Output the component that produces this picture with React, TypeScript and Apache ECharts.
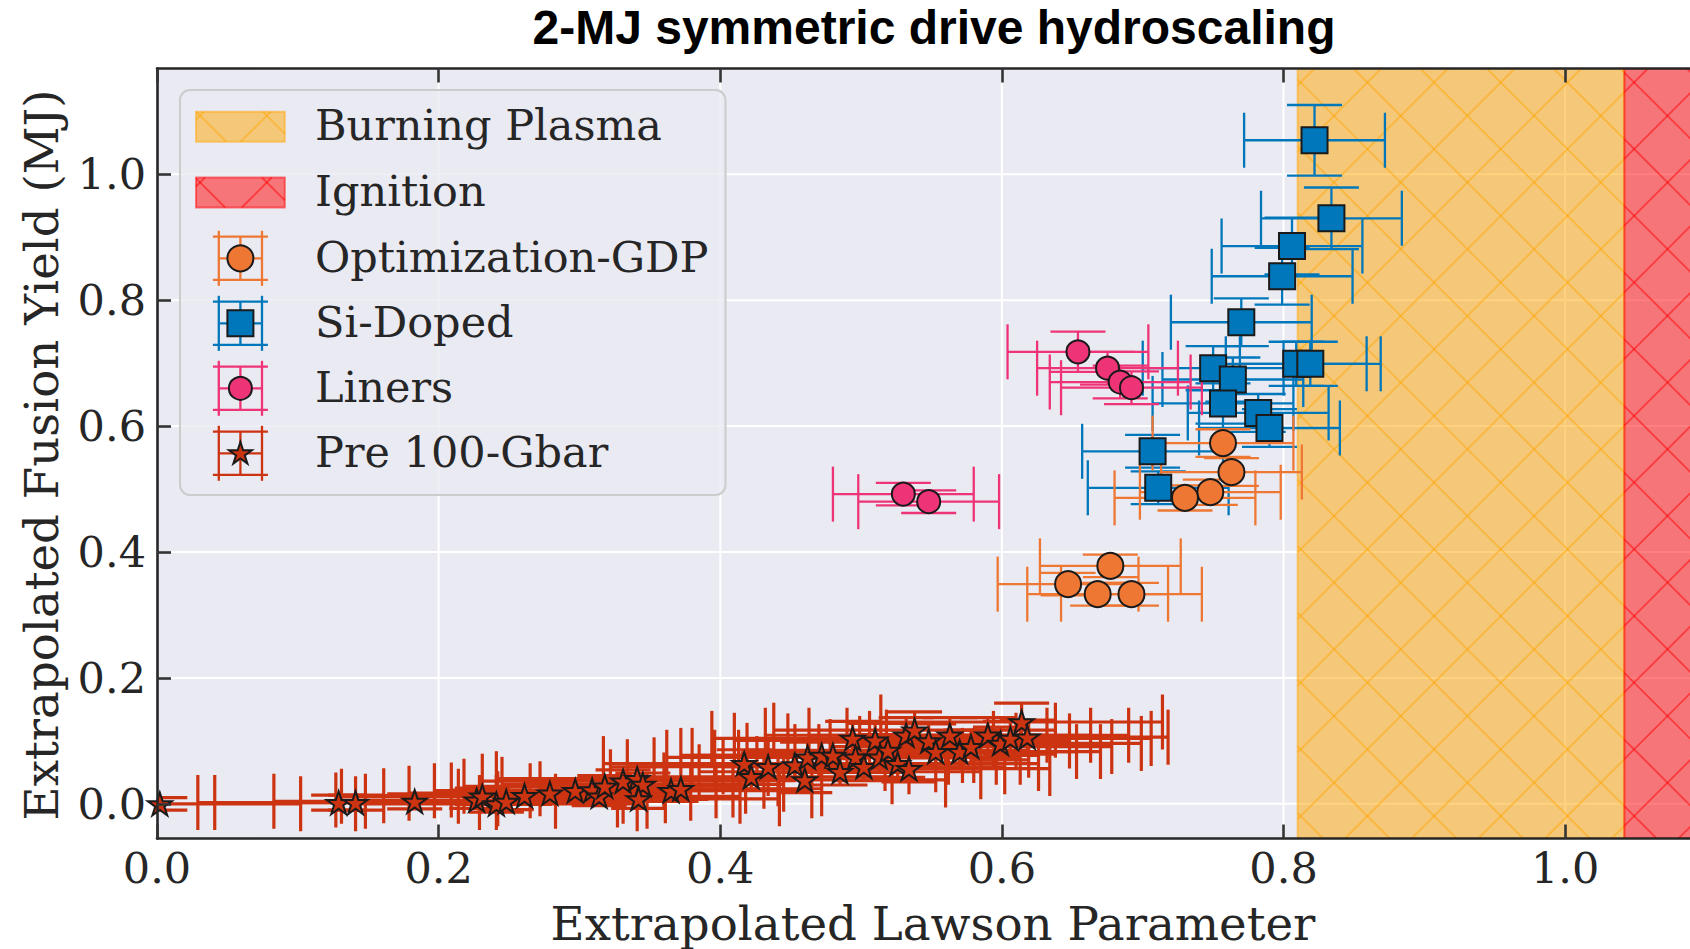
import React, { useEffect, useRef } from 'react';
import * as echarts from 'echarts';

// ---- texts -------------------------------------------------------------
const TITLE = '2-MJ symmetric drive hydroscaling';
const X_LABEL = 'Extrapolated Lawson Parameter';
const Y_LABEL = 'Extrapolated Fusion Yield (MJ)';

// ---- axes --------------------------------------------------------------
const X_TICKS = [0, 0.2, 0.4, 0.6, 0.8, 1.0];
const Y_TICKS = [0, 0.2, 0.4, 0.6, 0.8, 1.0];
const X_LIMITS = [0, 1.1];
const Y_LIMITS = [-0.055, 1.168];

// ---- regime bands along the Lawson parameter: [start, end] ---------------
const BURNING_PLASMA_SPAN = [0.81, 1.042];
const IGNITION_SPAN = [1.042, 1.1];

// ---- shots: [lawson, yield, lawsonErr, yieldErr] -------------------------
const OPTIMIZATION_GDP = [
  [0.757, 0.573, 0.05, 0.022],
  [0.763, 0.527, 0.05, 0.022],
  [0.748, 0.495, 0.05, 0.02],
  [0.73, 0.486, 0.05, 0.02],
  [0.677, 0.378, 0.05, 0.018],
  [0.647, 0.349, 0.05, 0.018],
  [0.668, 0.333, 0.05, 0.018],
  [0.692, 0.333, 0.05, 0.018],
];

const SI_DOPED = [
  [0.822, 1.054, 0.05, 0.056],
  [0.834, 0.93, 0.05, 0.049],
  [0.806, 0.886, 0.05, 0.045],
  [0.799, 0.838, 0.05, 0.045],
  [0.77, 0.765, 0.05, 0.038],
  [0.75, 0.692, 0.05, 0.035],
  [0.764, 0.674, 0.05, 0.035],
  [0.809, 0.699, 0.05, 0.035],
  [0.819, 0.699, 0.05, 0.035],
  [0.757, 0.636, 0.05, 0.032],
  [0.782, 0.621, 0.05, 0.03],
  [0.79, 0.597, 0.05, 0.03],
  [0.707, 0.56, 0.05, 0.026],
  [0.711, 0.502, 0.05, 0.026],
];

const LINERS = [
  [0.654, 0.718, 0.05, 0.032],
  [0.675, 0.692, 0.05, 0.026],
  [0.684, 0.67, 0.05, 0.026],
  [0.692, 0.661, 0.05, 0.026],
  [0.53, 0.492, 0.05, 0.018],
  [0.548, 0.48, 0.05, 0.018],
];

const PRE_100_GBAR = [
  [0.002, 0.0, 0.1, 0.01],
  [0.129, 0.002, 0.1, 0.012],
  [0.141, 0.002, 0.1, 0.012],
  [0.183, 0.004, 0.1, 0.012],
  [0.227, 0.006, 0.1, 0.013],
  [0.231, 0.012, 0.1, 0.013],
  [0.241, 0.0, 0.1, 0.013],
  [0.248, 0.004, 0.1, 0.013],
  [0.261, 0.013, 0.1, 0.014],
  [0.279, 0.017, 0.1, 0.015],
  [0.297, 0.021, 0.1, 0.016],
  [0.309, 0.022, 0.1, 0.016],
  [0.314, 0.012, 0.1, 0.015],
  [0.318, 0.028, 0.1, 0.017],
  [0.331, 0.036, 0.1, 0.018],
  [0.341, 0.04, 0.1, 0.019],
  [0.345, 0.031, 0.1, 0.018],
  [0.342, 0.008, 0.1, 0.015],
  [0.365, 0.021, 0.1, 0.017],
  [0.372, 0.024, 0.1, 0.017],
  [0.417, 0.064, 0.1, 0.022],
  [0.422, 0.043, 0.1, 0.02],
  [0.434, 0.059, 0.1, 0.022],
  [0.453, 0.062, 0.1, 0.022],
  [0.46, 0.038, 0.1, 0.02],
  [0.462, 0.074, 0.1, 0.024],
  [0.472, 0.077, 0.1, 0.024],
  [0.48, 0.077, 0.1, 0.024],
  [0.485, 0.051, 0.1, 0.021],
  [0.494, 0.104, 0.1, 0.027],
  [0.496, 0.074, 0.1, 0.024],
  [0.502, 0.059, 0.1, 0.022],
  [0.51, 0.101, 0.1, 0.027],
  [0.513, 0.074, 0.1, 0.024],
  [0.519, 0.085, 0.1, 0.025],
  [0.526, 0.064, 0.1, 0.022],
  [0.532, 0.109, 0.1, 0.028],
  [0.534, 0.056, 0.1, 0.021],
  [0.538, 0.117, 0.1, 0.029],
  [0.548, 0.1, 0.1, 0.027],
  [0.553, 0.083, 0.1, 0.025],
  [0.563, 0.109, 0.1, 0.028],
  [0.57, 0.083, 0.1, 0.025],
  [0.578, 0.091, 0.1, 0.026],
  [0.59, 0.109, 0.1, 0.028],
  [0.599, 0.096, 0.1, 0.026],
  [0.606, 0.104, 0.1, 0.027],
  [0.614, 0.13, 0.1, 0.03],
  [0.618, 0.106, 0.1, 0.027],
];

// ---- styling -----------------------------------------------------------
const COLORS = {
  orange: '#EE7733',
  blue: '#0077BB',
  magenta: '#EE3377',
  red: '#CC3311',
  edge: '#1a1a1a',
  axes: '#262626',
  plotBg: '#EAEAF2',
  burningFill: 'rgba(255,165,0,0.5)',
  ignitionFill: 'rgba(255,0,0,0.5)',
};
const SERIF = '"DejaVu Serif", serif';
const TICK_FONT = 43;
const LABEL_FONT = 46.7;
const LEGEND_FONT = 43;
const CAP = 27.5; // half length of the error-bar caps, px
const ERR_WIDTH = 2.3;
const DENSE_ERR_WIDTH = 3.2;
const HATCH_STEP = 66.7;
const HATCH_ORIGIN = [1334, 649.3];
const STAR_PATH =
  'path://M100,0L122.45,69.1L195.11,69.1L136.33,111.8L158.78,180.9L100,138.2L41.22,180.9L63.67,111.8L4.89,69.1L77.55,69.1Z';

const GRID = { left: 157, top: 68.5, right: -16, bottom: 110.5 };

// 45-degree cross hatch clipped to a pixel rectangle
function hatchSegments(x0: number, y0: number, x1: number, y1: number) {
  const segs: number[][] = [];
  const a0 = HATCH_ORIGIN[0] + HATCH_ORIGIN[1];
  const b0 = HATCH_ORIGIN[0] - HATCH_ORIGIN[1];
  let k = Math.ceil((x0 + y0 - a0) / HATCH_STEP);
  for (let c = a0 + k * HATCH_STEP; c <= x1 + y1; c += HATCH_STEP) {
    const lo = Math.max(x0, c - y1);
    const hi = Math.min(x1, c - y0);
    if (hi > lo) segs.push([lo, c - lo, hi, c - hi]);
  }
  k = Math.ceil((x0 - y1 - b0) / HATCH_STEP);
  for (let c = b0 + k * HATCH_STEP; c <= x1 - y0; c += HATCH_STEP) {
    const lo = Math.max(x0, c + y0);
    const hi = Math.min(x1, c + y1);
    if (hi > lo) segs.push([lo, lo - c, hi, hi - c]);
  }
  return segs;
}

function hatchedRect(x0: number, y0: number, x1: number, y1: number, fill: string, z?: number) {
  const els: any[] = [
    {
      type: 'rect',
      shape: { x: x0, y: y0, width: x1 - x0, height: y1 - y0 },
      style: { fill, stroke: fill, lineWidth: 2 },
      z,
    },
  ];
  hatchSegments(x0, y0, x1, y1).forEach((s) =>
    els.push({
      type: 'line',
      shape: { x1: s[0], y1: s[1], x2: s[2], y2: s[3] },
      style: { stroke: fill, lineWidth: 1.8 },
      z,
    })
  );
  return els;
}

function line(x1: number, y1: number, x2: number, y2: number, color: string, z?: number, width = ERR_WIDTH) {
  return { type: 'line', shape: { x1, y1, x2, y2 }, style: { stroke: color, lineWidth: width }, z };
}

function regionSeries(name: string, span: number[], fill: string) {
  return {
    type: 'custom',
    name,
    data: [[span[0], span[1], 0]],
    encode: { x: [0, 1], y: 2 },
    z: 2,
    silent: true,
    clip: true,
    renderItem: (params: any, api: any) => {
      const cs = params.coordSys;
      const a = api.coord([api.value(0), Y_LIMITS[1]]);
      const b = api.coord([api.value(1), Y_LIMITS[0]]);
      const x1 = Math.min(b[0], cs.x + cs.width);
      return { type: 'group', children: hatchedRect(a[0], cs.y, x1, cs.y + cs.height, fill) };
    },
  };
}

function errorBarSeries(name: string, data: number[][], color: string, width = ERR_WIDTH) {
  return {
    type: 'custom',
    name: name + ' error',
    data,
    encode: { x: 0, y: 1 },
    z: 3,
    silent: true,
    clip: true,
    renderItem: (_params: any, api: any) => {
      const x = api.value(0);
      const y = api.value(1);
      const ex = api.value(2);
      const ey = api.value(3);
      const l = api.coord([x - ex, y]);
      const r = api.coord([x + ex, y]);
      const t = api.coord([x, y + ey]);
      const b = api.coord([x, y - ey]);
      return {
        type: 'group',
        children: [
          line(l[0], l[1], r[0], r[1], color, undefined, width),
          line(t[0], t[1], b[0], b[1], color, undefined, width),
          line(l[0], l[1] - CAP, l[0], l[1] + CAP, color, undefined, width),
          line(r[0], r[1] - CAP, r[0], r[1] + CAP, color, undefined, width),
          line(t[0] - CAP, t[1], t[0] + CAP, t[1], color, undefined, width),
          line(b[0] - CAP, b[1], b[0] + CAP, b[1], color, undefined, width),
        ],
      };
    },
  };
}

function markerSeries(name: string, data: number[][], color: string, symbol: string, size: number) {
  return {
    type: 'scatter',
    name,
    data: data.map((d) => [d[0], d[1]]),
    symbol,
    symbolSize: size,
    symbolKeepAspect: true,
    z: 4,
    silent: true,
    itemStyle: { color, borderColor: COLORS.edge, borderWidth: 2, opacity: 1 },
  };
}

function gridLineSeries(dim: 'x' | 'y', ticks: number[]) {
  return {
    type: 'custom',
    name: 'grid-' + dim,
    data: ticks.map((v) => (dim === 'x' ? [v, 0] : [0, v])),
    encode: { x: 0, y: 1 },
    z: 1,
    silent: true,
    renderItem: (params: any, api: any) => {
      const cs = params.coordSys;
      const p = api.coord([api.value(0), api.value(1)]);
      const shape =
        dim === 'x'
          ? { x1: p[0], y1: cs.y, x2: p[0], y2: cs.y + cs.height }
          : { x1: cs.x, y1: p[1], x2: cs.x + cs.width, y2: p[1] };
      return { type: 'line', shape, style: { stroke: '#ffffff', lineWidth: 2 } };
    },
  };
}

// ---- legend ------------------------------------------------------------
const LEGEND_BOX = { x: 180, y: 90, width: 545.5, height: 405 };
const LEGEND_ROWS = [126.7, 192.5, 258.3, 323.3, 388.3, 453.3];
const LEGEND_ICON_X = 240.4;
const LEGEND_TEXT_X = 315;

function legendMarker(kind: string, cx: number, cy: number, color: string, size: number, z: number) {
  const style = { fill: color, stroke: COLORS.edge, lineWidth: 2 };
  if (kind === 'circle') return { type: 'circle', shape: { cx, cy, r: size / 2 }, style, z };
  if (kind === 'rect')
    return { type: 'rect', shape: { x: cx - size / 2, y: cy - size / 2, width: size, height: size }, style, z };
  const pts: number[][] = [];
  const R = size / 2;
  for (let i = 0; i < 10; i++) {
    const ang = -Math.PI / 2 + (i * Math.PI) / 5;
    const r = i % 2 === 0 ? R : R * 0.382;
    pts.push([cx + r * Math.cos(ang), cy + r * Math.sin(ang) + R * 0.05]);
  }
  return { type: 'polygon', shape: { points: pts }, style, z };
}

function buildLegend() {
  const z = 100;
  const els: any[] = [
    {
      type: 'rect',
      shape: { ...LEGEND_BOX, r: 10 },
      style: { fill: 'rgba(234,234,242,0.8)', stroke: '#cccccc', lineWidth: 2 },
      z,
    },
  ];
  const entries = [
    { label: 'Burning Plasma', patch: COLORS.burningFill },
    { label: 'Ignition', patch: COLORS.ignitionFill },
    { label: 'Optimization-GDP', color: COLORS.orange, marker: 'circle', size: 26 },
    { label: 'Si-Doped', color: COLORS.blue, marker: 'rect', size: 26 },
    { label: 'Liners', color: COLORS.magenta, marker: 'circle', size: 23 },
    { label: 'Pre 100-Gbar', color: COLORS.red, marker: 'star', size: 24 },
  ];
  entries.forEach((e: any, i) => {
    const cy = LEGEND_ROWS[i];
    const cx = LEGEND_ICON_X;
    if (e.patch) {
      hatchedRect(cx - 44.4, cy - 15, cx + 44.4, cy + 15, e.patch, z + 1).forEach((el) => els.push(el));
    } else {
      const d = 21.6;
      const c = e.color;
      els.push(line(cx - d, cy, cx + d, cy, c, z + 1));
      els.push(line(cx, cy - d, cx, cy + d, c, z + 1));
      els.push(line(cx - d, cy - CAP, cx - d, cy + CAP, c, z + 1));
      els.push(line(cx + d, cy - CAP, cx + d, cy + CAP, c, z + 1));
      els.push(line(cx - CAP, cy - d, cx + CAP, cy - d, c, z + 1));
      els.push(line(cx - CAP, cy + d, cx + CAP, cy + d, c, z + 1));
      els.push(legendMarker(e.marker, cx, cy, c, e.size, z + 2));
    }
    els.push({
      type: 'text',
      x: LEGEND_TEXT_X,
      y: cy - 1.5,
      style: {
        text: e.label,
        font: `${LEGEND_FONT}px ${SERIF}`,
        fill: COLORS.axes,
        align: 'left',
        verticalAlign: 'middle',
      },
      z: z + 1,
    });
  });
  return els;
}

function buildOption() {
  const tickLabel = (v: number) => v.toFixed(1);
  const axisLine = { show: true, onZero: false, lineStyle: { color: COLORS.axes, width: 2.6 } };
  const axisTickStyle = { color: '#333333', width: 2.6 };
  return {
    animation: false,
    backgroundColor: '#ffffff',
    grid: {
      ...GRID,
      show: true,
      backgroundColor: COLORS.plotBg,
      borderWidth: 0,
      containLabel: false,
      outerBoundsMode: 'none',
    },
    xAxis: [
      {
        type: 'value',
        position: 'bottom',
        min: X_LIMITS[0],
        max: X_LIMITS[1],
        z: 10,
        axisLine,
        axisTick: { show: true, inside: true, length: 14, customValues: X_TICKS, lineStyle: axisTickStyle },
        axisLabel: {
          show: true,
          customValues: X_TICKS,
          formatter: tickLabel,
          fontFamily: SERIF,
          fontSize: TICK_FONT,
          lineHeight: TICK_FONT,
          color: COLORS.axes,
          margin: 8,
        },
        splitLine: { show: false },
      },
      {
        type: 'value',
        position: 'top',
        min: X_LIMITS[0],
        max: X_LIMITS[1],
        z: 10,
        axisLine,
        axisTick: { show: true, inside: true, length: 14, customValues: X_TICKS, lineStyle: axisTickStyle },
        axisLabel: { show: false },
        splitLine: { show: false },
      },
    ],
    yAxis: [
      {
        type: 'value',
        position: 'left',
        min: Y_LIMITS[0],
        max: Y_LIMITS[1],
        z: 10,
        axisLine,
        axisTick: { show: true, inside: true, length: 14, customValues: Y_TICKS, lineStyle: axisTickStyle },
        axisLabel: {
          show: true,
          customValues: Y_TICKS,
          formatter: tickLabel,
          fontFamily: SERIF,
          fontSize: TICK_FONT,
          lineHeight: TICK_FONT,
          color: COLORS.axes,
          margin: 11,
        },
        splitLine: { show: false },
      },
    ],
    series: [
      gridLineSeries('x', X_TICKS),
      gridLineSeries('y', Y_TICKS),
      regionSeries('Burning Plasma', BURNING_PLASMA_SPAN, COLORS.burningFill),
      regionSeries('Ignition', IGNITION_SPAN, COLORS.ignitionFill),
      errorBarSeries('Si-Doped', SI_DOPED, COLORS.blue),
      errorBarSeries('Optimization-GDP', OPTIMIZATION_GDP, COLORS.orange),
      errorBarSeries('Liners', LINERS, COLORS.magenta),
      errorBarSeries('Pre 100-Gbar', PRE_100_GBAR, COLORS.red, DENSE_ERR_WIDTH),
      markerSeries('Si-Doped', SI_DOPED, COLORS.blue, 'rect', 26),
      markerSeries('Optimization-GDP', OPTIMIZATION_GDP, COLORS.orange, 'circle', 26),
      markerSeries('Liners', LINERS, COLORS.magenta, 'circle', 23),
      markerSeries('Pre 100-Gbar', PRE_100_GBAR, COLORS.red, STAR_PATH, 24),
    ],
    graphic: {
      elements: [
        {
          type: 'text',
          x: 934,
          y: 27,
          style: {
            text: TITLE,
            font: 'bold 48px "Liberation Sans", Arial, sans-serif',
            fill: '#000000',
            align: 'center',
            verticalAlign: 'middle',
          },
          z: 100,
        },
        {
          type: 'text',
          x: 933,
          y: 923.5,
          style: {
            text: X_LABEL,
            font: `${LABEL_FONT}px ${SERIF}`,
            fill: COLORS.axes,
            align: 'center',
            verticalAlign: 'middle',
          },
          z: 100,
        },
        {
          type: 'text',
          x: 41.8,
          y: 455,
          rotation: Math.PI / 2,
          style: {
            text: Y_LABEL,
            font: `${LABEL_FONT}px ${SERIF}`,
            fill: COLORS.axes,
            align: 'center',
            verticalAlign: 'middle',
          },
          z: 100,
        },
        ...buildLegend(),
      ],
    },
  };
}

export default function App() {
  const ref = useRef<HTMLDivElement>(null);
  useEffect(() => {
    document.body.style.margin = '0';
    const chart = echarts.init(ref.current as HTMLDivElement, null, { renderer: 'svg' });
    chart.setOption(buildOption() as any);
    return () => chart.dispose();
  }, []);
  return <div ref={ref} style={{ width: 1690, height: 949 }} />;
}
